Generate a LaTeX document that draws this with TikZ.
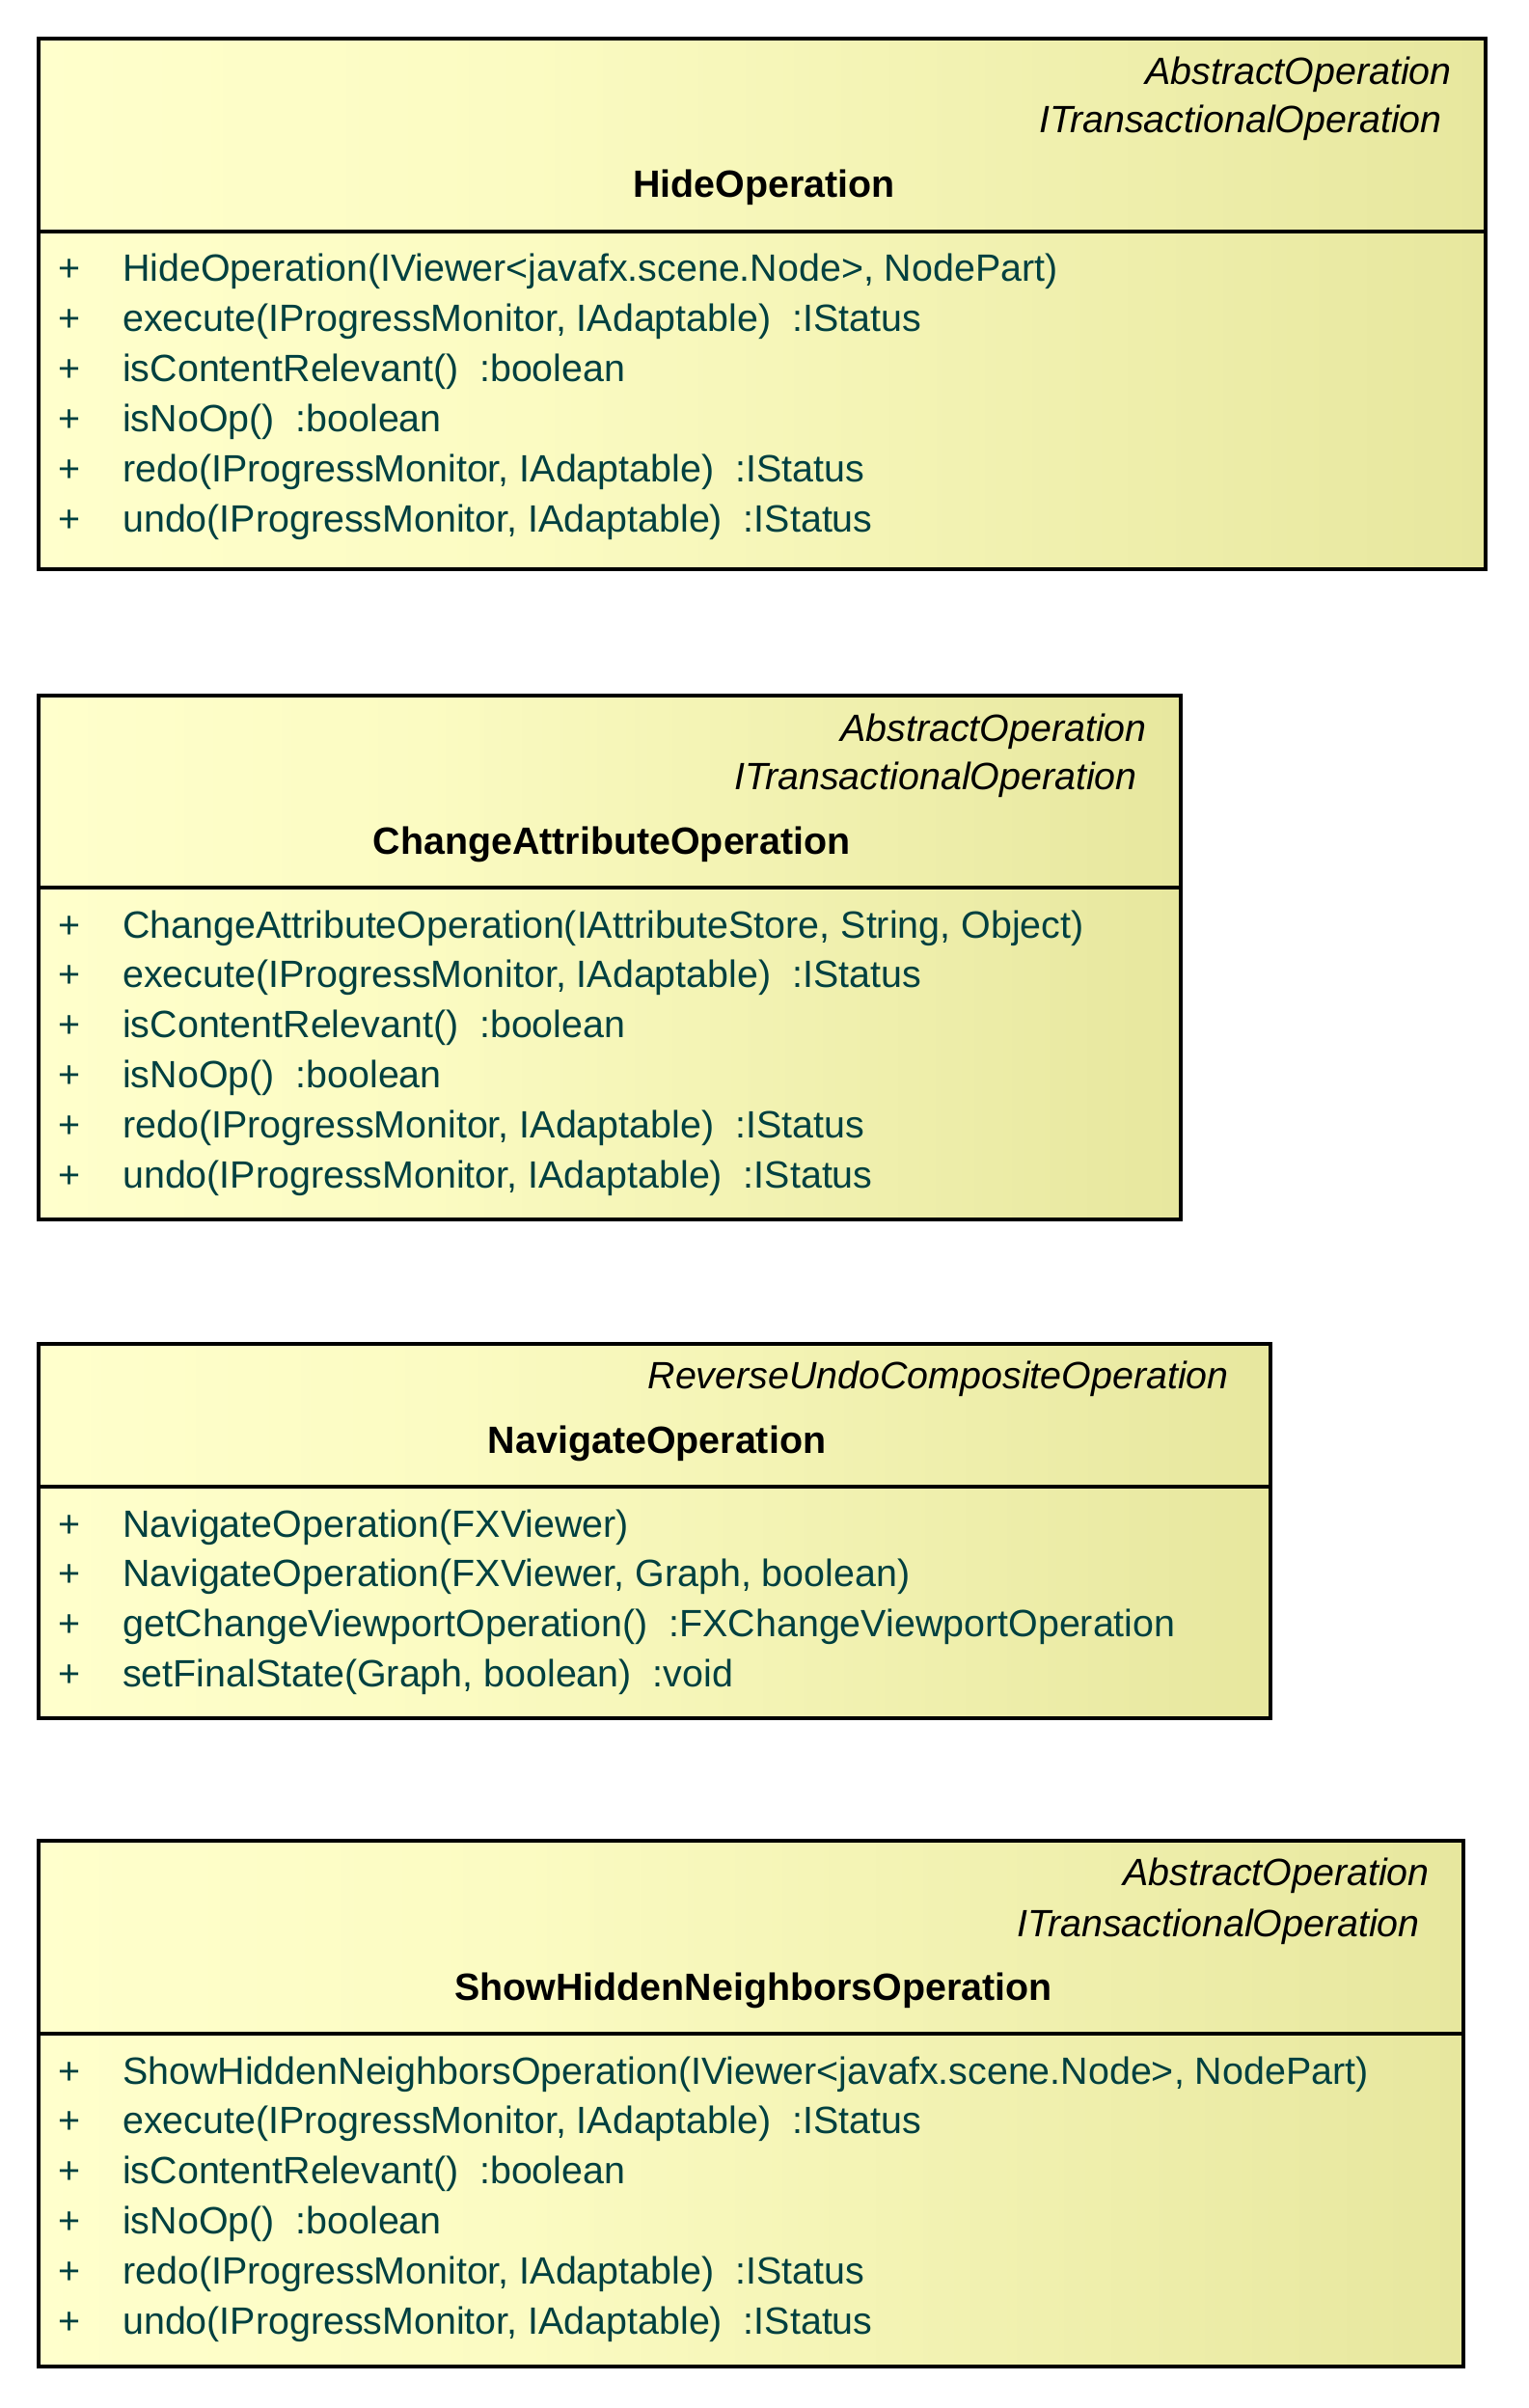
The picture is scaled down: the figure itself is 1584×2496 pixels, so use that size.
\documentclass[tikz,border=0pt]{standalone}
\usepackage{fontspec}
\setmainfont{Liberation Sans}
\definecolor{optext}{RGB}{0,64,64}
\definecolor{fillA}{RGB}{255,255,204}
\definecolor{fillB}{RGB}{251,251,194}
\definecolor{fillC}{RGB}{231,231,158}
\pgfdeclarehorizontalshading{classshade}{100bp}{color(0bp)=(fillA); color(25bp)=(fillA); color(42bp)=(fillB); color(75bp)=(fillC); color(100bp)=(fillC)}
\newcommand\umlfont{\fontsize{39.4}{47}\selectfont}
\tikzset{
  boxline/.style={draw=black, line width=3.2pt},
  stereo/.style={anchor=base east, inner sep=0pt, font=\umlfont\itshape, text=black},
  cname/.style={anchor=base, inner sep=0pt, font=\umlfont\bfseries, text=black},
  visib/.style={anchor=base west, inner sep=0pt, font=\umlfont, text=optext},
  oper/.style={anchor=base west, inner sep=0pt, font=\umlfont, text=optext}
}
% #1 name, #2 left, #3 top, #4 separator, #5 bottom, #6 right
\newcommand\umlbox[6]{%
  \path[boxline, shading=classshade] (#2,#3) rectangle (#6,#5);
  \draw[boxline] (#2,#4) -- (#6,#4);
  \coordinate (#1-nw) at (#2,#3);
  \coordinate (#1-se) at (#6,#5);
}
% #1 node name, #2 baseline y, #3 text
\newcommand\oprow[3]{%
  \node[visib] (#1-v) at (60,#2) {+};
  \node[oper] (#1) at (127,#2) {#3};
}
\begin{document}
\begin{tikzpicture}[x=1pt,y=-1pt]
\useasboundingbox (0,0) rectangle (1584,2496);
\fill[white] (0,0) rectangle (1584,2496);

% ---- HideOperation ----
\umlbox{hide}{40}{40}{240}{590}{1540}
\node[stereo] (hide-s1) at (1505,88) {AbstractOperation};
\node[stereo] (hide-s2) at (1495,138) {ITransactionalOperation};
\node[cname] (hide-n) at (792,205) {HideOperation};
\oprow{hide-o1}{292}{HideOperation(IViewer<javafx.scene.Node>, NodePart)}
\oprow{hide-o2}{343.8}{execute(IProgressMonitor, IAdaptable)\ \ :IStatus}
\oprow{hide-o3}{395.6}{isContentRelevant()\ \ :boolean}
\oprow{hide-o4}{447.4}{isNoOp()\ \ :boolean}
\oprow{hide-o5}{499.2}{redo(IProgressMonitor, IAdaptable)\ \ :IStatus}
\oprow{hide-o6}{551}{undo(IProgressMonitor, IAdaptable)\ \ :IStatus}

% ---- ChangeAttributeOperation ----
\umlbox{chg}{40}{721}{920}{1264}{1224}
\node[stereo] (chg-s1) at (1189,768) {AbstractOperation};
\node[stereo] (chg-s2) at (1179,818) {ITransactionalOperation};
\node[cname] (chg-n) at (634,885) {ChangeAttributeOperation};
\oprow{chg-o1}{972}{ChangeAttributeOperation(IAttributeStore, String, Object)}
\oprow{chg-o2}{1023.8}{execute(IProgressMonitor, IAdaptable)\ \ :IStatus}
\oprow{chg-o3}{1075.6}{isContentRelevant()\ \ :boolean}
\oprow{chg-o4}{1127.4}{isNoOp()\ \ :boolean}
\oprow{chg-o5}{1179.2}{redo(IProgressMonitor, IAdaptable)\ \ :IStatus}
\oprow{chg-o6}{1231}{undo(IProgressMonitor, IAdaptable)\ \ :IStatus}

% ---- NavigateOperation ----
\umlbox{nav}{40}{1393}{1541}{1781}{1317}
\node[stereo] (nav-s1) at (1274,1439) {ReverseUndoCompositeOperation};
\node[cname] (nav-n) at (681,1506) {NavigateOperation};
\oprow{nav-o1}{1593}{NavigateOperation(FXViewer)}
\oprow{nav-o2}{1644.8}{NavigateOperation(FXViewer, Graph, boolean)}
\oprow{nav-o3}{1696.6}{getChangeViewportOperation()\ \ :FXChangeViewportOperation}
\oprow{nav-o4}{1748.4}{setFinalState(Graph, boolean)\ \ :void}

% ---- ShowHiddenNeighborsOperation ----
\umlbox{shn}{40}{1908}{2108}{2453}{1517}
\node[stereo] (shn-s1) at (1482,1954) {AbstractOperation};
\node[stereo] (shn-s2) at (1472,2007) {ITransactionalOperation};
\node[cname] (shn-n) at (781,2073) {ShowHiddenNeighborsOperation};
\oprow{shn-o1}{2160}{ShowHiddenNeighborsOperation(IViewer<javafx.scene.Node>, NodePart)}
\oprow{shn-o2}{2211.8}{execute(IProgressMonitor, IAdaptable)\ \ :IStatus}
\oprow{shn-o3}{2263.6}{isContentRelevant()\ \ :boolean}
\oprow{shn-o4}{2315.4}{isNoOp()\ \ :boolean}
\oprow{shn-o5}{2367.2}{redo(IProgressMonitor, IAdaptable)\ \ :IStatus}
\oprow{shn-o6}{2419}{undo(IProgressMonitor, IAdaptable)\ \ :IStatus}
\end{tikzpicture}
\end{document}
